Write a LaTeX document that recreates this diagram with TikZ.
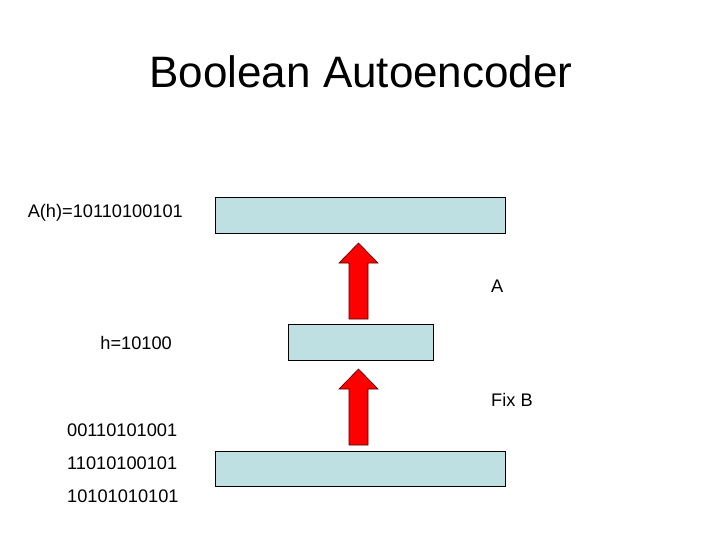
\documentclass[tikz,border=0pt]{standalone}
\usepackage{fontspec}
\setmainfont{Liberation Sans}
\begin{document}
\begin{tikzpicture}[x=1pt,y=-1pt,
  bbox/.style={draw=black,fill=boxblue,line width=1pt},
  barrow/.style={draw=black!70!red,fill=red,line width=0.6pt},
  lbl/.style={font=\fontsize{18.2}{21}\selectfont,inner sep=0pt}]
\definecolor{boxblue}{HTML}{BEE0E3}
\useasboundingbox[fill=white] (0,0) rectangle (720,540);
\node[font=\fontsize{44}{50}\selectfont] (title) at (361,72) {Boolean Autoencoder};
\draw[bbox] (215,198) rectangle (505,233);
\draw[bbox] (288,324) rectangle (433,360);
\draw[bbox] (215,451) rectangle (505,486);
\draw[barrow] (349,319) -- (349,263) -- (339,263) -- (358.5,243) -- (378,263) -- (368,263) -- (368,319) -- cycle;
\draw[barrow] (349,445) -- (349,389) -- (339,389) -- (358.5,369) -- (378,389) -- (368,389) -- (368,445) -- cycle;
\node[lbl,anchor=east] (ah) at (183,213) {A(h)=10110100101};
\node[lbl,anchor=west] (a) at (491,286) {A};
\node[lbl,anchor=east] (h) at (172,343) {h=10100};
\node[lbl,anchor=west] (fb) at (491,400) {Fix B};
\node[lbl,anchor=west] (s1) at (67,430) {00110101001};
\node[lbl,anchor=west] (s2) at (67,463) {11010100101};
\node[lbl,anchor=west] (s3) at (67,496) {10101010101};
\end{tikzpicture}
\end{document}
